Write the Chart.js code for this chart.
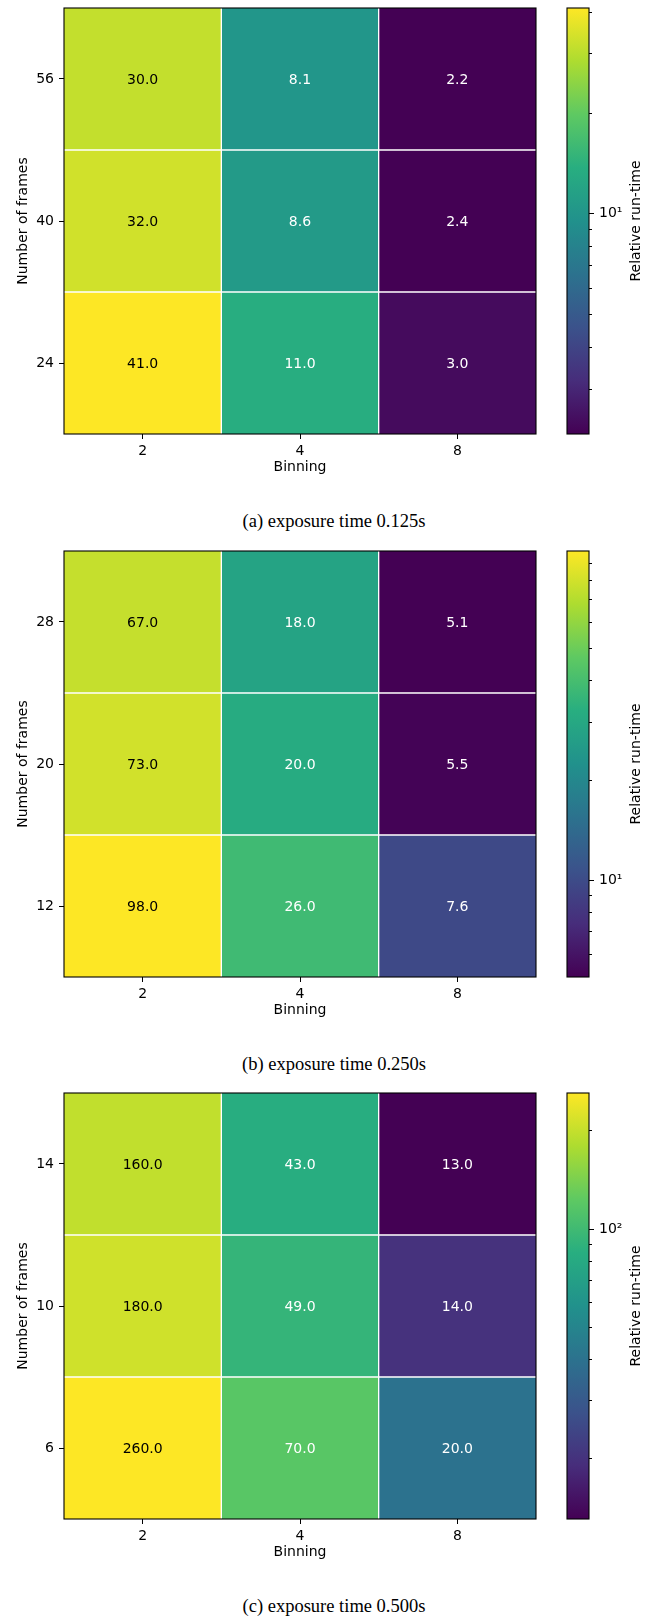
<!DOCTYPE html>
<html>
<head>
<meta charset="utf-8">
<script src="https://cdn.jsdelivr.net/npm/chart.js@4.4.0/dist/chart.umd.min.js"></script>
<style>
  html, body { margin: 0; padding: 0; background: #fff; overflow: hidden; }
  #page { position: relative; width: 658px; height: 1616px; }
  .panel { position: absolute; left: 0; width: 658px; height: 543px; }
  .panel canvas { position: absolute; top: 0; }
  .caption { position: absolute; left: 10px; width: 648px; top: 509px; text-align: center;
             font-family: 'Liberation Serif', 'Times New Roman', serif; font-size: 18.5px;
             line-height: 24px; color: #000; }
</style>
</head>
<body>
<div id="page"></div>
<script>
// binning on the x axis, same for all three panels
const binning = ['2', '4', '8'];

// number of frames, bottom row first
const framesA = ['24', '40', '56'];
const framesB = ['12', '20', '28'];
const framesC = ['6', '10', '14'];

// relative run-time printed in the cells, rows bottom->top, columns binning 2,4,8
const runtimeA = [[41.0, 11.0, 3.0], [32.0, 8.6, 2.4], [30.0, 8.1, 2.2]];
const runtimeB = [[98.0, 26.0, 7.6], [73.0, 20.0, 5.5], [67.0, 18.0, 5.1]];
const runtimeC = [[260.0, 70.0, 20.0], [180.0, 49.0, 14.0], [160.0, 43.0, 13.0]];

// colour of each cell, read back off its colorbar (same layout as above)
const levelA = [[41, 13.5, 2.4], [33.4, 10.7, 2.2], [31.5, 10.1, 2.2]];
const levelB = [[98, 38, 9.8], [80, 31, 5.2], [75.5, 28.2, 5.1]];
const levelC = [[260, 118, 40], [210, 92.5, 19.8], [196, 84, 13]];

// colorbar ticks (log axis) and the labelled one
const cbarTicksA = [3, 4, 5, 6, 7, 8, 9, 10, 20, 30, 40];
const cbarTicksB = [6, 7, 8, 9, 10, 20, 30, 40, 50, 60, 70, 80, 90];
const cbarTicksC = [20, 30, 40, 50, 60, 70, 80, 90, 100, 200];
const cbarMajor = [10, 10, 100];
const cbarMajorLabel = ['10¹', '10¹', '10²'];

const captions = ['(a) exposure time 0.125s', '(b) exposure time 0.250s', '(c) exposure time 0.500s'];

const VIRIDIS = ['#440154', '#472d7b', '#3b528b', '#2c728e', '#21918c', '#28ae80', '#5ec962', '#addc30', '#fde725'];

function hexRgb(h) {
  return [parseInt(h.slice(1, 3), 16), parseInt(h.slice(3, 5), 16), parseInt(h.slice(5, 7), 16)];
}
function viridis(t) {
  t = Math.max(0, Math.min(1, t));
  const n = VIRIDIS.length - 1;
  const i = Math.min(n - 1, Math.floor(t * n));
  const f = t * n - i;
  const a = hexRgb(VIRIDIS[i]), b = hexRgb(VIRIDIS[i + 1]);
  const c = a.map((v, k) => Math.round(v + (b[k] - v) * f));
  return `rgb(${c[0]},${c[1]},${c[2]})`;
}

// log norm over the printed min..max, as the colorbar shows
function lognorm(values) {
  const flat = values.flat();
  const lo = Math.min(...flat), hi = Math.max(...flat);
  return v => Math.log(v / lo) / Math.log(hi / lo);
}

Chart.defaults.font.family = '"DejaVu Sans", sans-serif';
Chart.defaults.font.size = 14;
Chart.defaults.color = '#000';

const W_MAIN = 540, W_CBAR = 118, H = 480;

function heatmap(canvas, frames, values, levels) {
  const norm = lognorm(values);
  const rows = values.length, cols = binning.length;

  const cellText = {
    id: 'cellText',
    afterDatasetsDraw(chart) {
      const { ctx, chartArea: a } = chart;
      ctx.save();
      ctx.font = '14px "DejaVu Sans"';
      ctx.textAlign = 'center';
      ctx.textBaseline = 'middle';
      values.forEach((row, r) => {
        chart.getDatasetMeta(r).data.forEach((bar, c) => {
          ctx.fillStyle = norm(levels[r][c]) > 0.8 ? '#000' : '#fff';
          ctx.fillText(row[c].toFixed(1), bar.x, (bar.y + bar.base) / 2 + 1);
        });
      });
      ctx.strokeStyle = '#000';
      ctx.lineWidth = 1.1;
      ctx.strokeRect(a.left, a.top, a.right - a.left, a.bottom - a.top);
      ctx.restore();
    }
  };

  return new Chart(canvas, {
    type: 'bar',
    data: {
      labels: binning,
      datasets: values.map((row, r) => ({
        data: row.map(() => [r, r + 1]),
        backgroundColor: levels[r].map(v => viridis(norm(v))),
        borderColor: '#fff',
        borderWidth: ctx => ({
          left: ctx.dataIndex > 0 ? 1 : 0,
          right: ctx.dataIndex < cols - 1 ? 1 : 0,
          top: r < rows - 1 ? 1 : 0,
          bottom: r > 0 ? 1 : 0
        }),
        borderSkipped: false,
        grouped: false,
        barPercentage: 1,
        categoryPercentage: 1
      }))
    },
    options: {
      responsive: false,
      animation: false,
      events: [],
      layout: { padding: { top: 8, right: 4, left: 0, bottom: 0 } },
      plugins: { legend: { display: false }, tooltip: { enabled: false } },
      scales: {
        x: {
          type: 'category',
          offset: true,
          grid: { display: true, drawOnChartArea: false, drawTicks: true, tickLength: 5, color: '#000', offset: false },
          border: { display: false },
          ticks: { padding: 4, maxRotation: 0, autoSkip: false },
          title: { display: true, text: 'Binning', padding: { top: 0, bottom: 4 } },
          afterFit(s) { s.height = H - 434; s.paddingLeft = 0; s.paddingRight = 0; }
        },
        y: {
          type: 'linear',
          min: 0,
          max: rows,
          grid: { display: true, drawOnChartArea: false, drawTicks: true, tickLength: 5, color: '#000' },
          border: { display: false },
          afterBuildTicks(s) { s.ticks = frames.map((f, i) => ({ value: i + 0.5 })); },
          ticks: { padding: 5, autoSkip: false, callback: v => frames[Math.floor(v)] },
          title: { display: true, text: 'Number of frames', padding: { top: 15, bottom: 0 } },
          afterFit(s) { s.width = 64; s.paddingTop = 0; s.paddingBottom = 0; }
        }
      }
    },
    plugins: [cellText]
  });
}

function colorbar(canvas, values, ticks, major, majorLabel) {
  const flat = values.flat();
  const lo = Math.min(...flat), hi = Math.max(...flat);

  const cbar = {
    id: 'cbar',
    afterDraw(chart) {
      const { ctx, chartArea: a, scales: { y } } = chart;
      ctx.save();
      ctx.strokeStyle = '#000';
      ctx.lineWidth = 1;
      y.ticks.forEach(t => {
        const py = Math.round(y.getPixelForValue(t.value)) + 0.5;
        const len = t.value === major ? 5 : 3;
        ctx.beginPath();
        ctx.moveTo(a.right, py);
        ctx.lineTo(a.right + len, py);
        ctx.stroke();
      });
      ctx.lineWidth = 1.1;
      ctx.strokeRect(a.left, a.top, a.right - a.left, a.bottom - a.top);
      ctx.translate(96, (a.top + a.bottom) / 2);
      ctx.rotate(-Math.PI / 2);
      ctx.font = '14px "DejaVu Sans"';
      ctx.fillStyle = '#000';
      ctx.textAlign = 'center';
      ctx.textBaseline = 'middle';
      ctx.fillText('Relative run-time', 0, 0);
      ctx.restore();
    }
  };

  return new Chart(canvas, {
    type: 'bar',
    data: {
      labels: [''],
      datasets: [{
        data: [[lo, hi]],
        backgroundColor: ctx => {
          const a = ctx.chart.chartArea;
          if (!a) return VIRIDIS[0];
          const g = ctx.chart.ctx.createLinearGradient(0, a.bottom, 0, a.top);
          VIRIDIS.forEach((c, i) => g.addColorStop(i / (VIRIDIS.length - 1), c));
          return g;
        },
        borderWidth: 0,
        barPercentage: 1,
        categoryPercentage: 1
      }]
    },
    options: {
      responsive: false,
      animation: false,
      events: [],
      layout: { padding: { left: 27, top: 8, bottom: H - 434, right: 0 } },
      plugins: { legend: { display: false }, tooltip: { enabled: false } },
      scales: {
        x: { display: false },
        y: {
          type: 'logarithmic',
          position: 'right',
          min: lo,
          max: hi,
          grid: { display: false, drawTicks: false },
          border: { display: false },
          afterBuildTicks(s) { s.ticks = ticks.map(v => ({ value: v })); },
          ticks: { padding: 10, autoSkip: false, callback: v => (v === major ? majorLabel : '') },
          afterFit(s) { s.width = W_CBAR - 27 - 22; s.paddingTop = 0; s.paddingBottom = 0; }
        }
      }
    },
    plugins: [cbar]
  });
}

const panels = [
  { frames: framesA, values: runtimeA, levels: levelA, ticks: cbarTicksA },
  { frames: framesB, values: runtimeB, levels: levelB, ticks: cbarTicksB },
  { frames: framesC, values: runtimeC, levels: levelC, ticks: cbarTicksC }
];
const panelTop = [0, 543, 1085];

const page = document.getElementById('page');
panels.forEach((p, i) => {
  const div = document.createElement('div');
  div.className = 'panel';
  div.style.top = panelTop[i] + 'px';

  const main = document.createElement('canvas');
  main.width = W_MAIN; main.height = H;
  main.style.left = '0px';
  const cb = document.createElement('canvas');
  cb.width = W_CBAR; cb.height = H;
  cb.style.left = W_MAIN + 'px';

  const cap = document.createElement('div');
  cap.className = 'caption';
  cap.textContent = captions[i];

  div.appendChild(main);
  div.appendChild(cb);
  div.appendChild(cap);
  page.appendChild(div);

  heatmap(main, p.frames, p.values, p.levels);
  colorbar(cb, p.values, p.ticks, cbarMajor[i], cbarMajorLabel[i]);
});
</script>
</body>
</html>
